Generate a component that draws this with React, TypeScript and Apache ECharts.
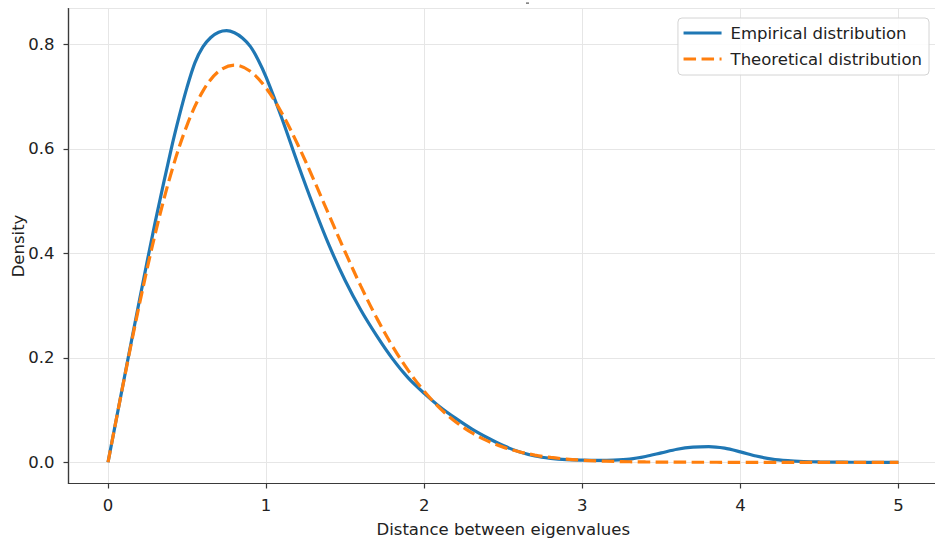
import React, { useEffect, useRef } from "react";
import * as echarts from "echarts";

const empiricalX = [
  0, 0.1, 0.2, 0.3, 0.4, 0.45, 0.5, 0.55, 0.6, 0.65, 0.7, 0.75, 0.8, 0.85, 0.9, 0.95,
  1.0, 1.1, 1.2, 1.3, 1.4, 1.5, 1.6, 1.7, 1.8, 1.9,
  2.0, 2.1, 2.2, 2.3, 2.4, 2.5, 2.6, 2.7, 2.8, 2.9,
  3.0, 3.1, 3.2, 3.3, 3.4, 3.5, 3.6, 3.7, 3.8, 3.9,
  4.0, 4.1, 4.2, 4.3, 4.4, 4.5, 4.6, 4.7, 4.8, 4.9, 5.0,
];

const empirical = [
  0, 0.157, 0.312, 0.462, 0.6, 0.662, 0.718, 0.765, 0.795, 0.813, 0.823, 0.826, 0.822, 0.812, 0.796, 0.77,
  0.737, 0.658, 0.572, 0.49, 0.414, 0.348, 0.291, 0.242, 0.198, 0.161,
  0.132, 0.106, 0.084, 0.064, 0.047, 0.032, 0.02, 0.012, 0.0075, 0.005,
  0.004, 0.0035, 0.004, 0.006, 0.011, 0.018, 0.025, 0.029, 0.03, 0.027,
  0.02, 0.012, 0.006, 0.003, 0.0015, 0.0007, 0.0003, 0.0001, 0, 0, 0,
];

const theoreticalX = [
  0, 0.1, 0.2, 0.3, 0.4, 0.5, 0.6, 0.7, 0.8, 0.9,
  1.0, 1.1, 1.2, 1.3, 1.4, 1.5, 1.6, 1.7, 1.8, 1.9,
  2.0, 2.1, 2.2, 2.3, 2.4, 2.5, 2.6, 2.7, 2.8, 2.9,
  3.0, 3.1, 3.2, 3.3, 3.4, 3.5, 3.6, 3.7, 3.8, 3.9,
  4.0, 4.1, 4.2, 4.3, 4.4, 4.5, 4.6, 4.7, 4.8, 4.9, 5.0,
];

const theoretical = [
  0, 0.1559, 0.3044, 0.4391, 0.5541, 0.6454, 0.7104, 0.7483, 0.7602, 0.7483,
  0.7162, 0.668, 0.6083, 0.5416, 0.4717, 0.4025, 0.3366, 0.2759, 0.222, 0.1753,
  0.1358, 0.1033, 0.0772, 0.0567, 0.0409, 0.029, 0.0202, 0.0138, 0.0093, 0.0062,
  0.004, 0.0026, 0.0016, 0.001, 0.0006, 0.0004, 0.0002, 0.0001, 0.0001, 0,
  0, 0, 0, 0, 0, 0, 0, 0, 0, 0, 0,
];

const seriesNames = ["Empirical distribution", "Theoretical distribution"];
const xAxisName = "Distance between eigenvalues";
const yAxisName = "Density";

const FONT = "DejaVu Sans";
const FS = 16.5;

export default function App() {
  const ref = useRef<HTMLDivElement>(null);
  useEffect(() => {
    if (!ref.current) return;
    const chart = echarts.init(ref.current, undefined, { renderer: "svg" });
    const pairs = (xs: number[], ys: number[]) => xs.map((x, i) => [x, ys[i]]);
    chart.setOption({
      animation: false,
      backgroundColor: "#ffffff",
      grid: {
        left: 68.5,
        right: -3,
        top: 8.5,
        bottom: 54.5,
        outerBoundsMode: "none",
        containLabel: false,
        show: true,
        borderColor: "#3a3a3a",
        borderWidth: 1.2,
        backgroundColor: "transparent",
      },
      legend: {
        orient: "vertical",
        right: 6,
        top: 18,
        padding: [5, 7, 6, 4],
        itemWidth: 38,
        itemHeight: 14,
        itemGap: 6,
        backgroundColor: "rgba(255,255,255,0.85)",
        borderColor: "#d4d4d4",
        borderWidth: 1,
        borderRadius: 4,
        itemStyle: { opacity: 0 },
        lineStyle: { width: 3.2 },
        textStyle: {
          fontFamily: FONT,
          fontSize: FS,
          lineHeight: 20,
          color: "#222",
          padding: [0, 0, 0, 4],
        },
        data: seriesNames,
      },
      xAxis: {
        type: "value",
        min: -0.25,
        max: 5.25,
        name: xAxisName,
        nameLocation: "middle",
        nameGap: 37,
        nameMoveOverlap: false,
        nameTextStyle: { fontFamily: FONT, fontSize: FS, color: "#222" },
        axisLine: { show: true, onZero: false, lineStyle: { color: "#3a3a3a", width: 1.2 } },
        axisTick: { show: true, length: 5, lineStyle: { color: "#3a3a3a", width: 1.2 } },
        axisLabel: {
          showMinLabel: false,
          showMaxLabel: false,
          margin: 13,
          fontFamily: FONT,
          fontSize: FS,
          color: "#222",
          formatter: (v: number) => (Math.abs(v - Math.round(v)) < 1e-6 ? String(Math.round(v)) : ""),
        },
        splitLine: { show: true, lineStyle: { color: "#e6e6e6", width: 1 } },
      },
      yAxis: {
        type: "value",
        min: -0.0406,
        max: 0.8685,
        name: yAxisName,
        nameLocation: "middle",
        nameGap: 42,
        nameMoveOverlap: false,
        nameRotate: 90,
        nameTextStyle: { fontFamily: FONT, fontSize: FS, color: "#222" },
        axisLine: { show: true, onZero: false, lineStyle: { color: "#3a3a3a", width: 1.2 } },
        axisTick: { show: true, length: 5, lineStyle: { color: "#3a3a3a", width: 1.2 } },
        axisLabel: {
          showMinLabel: false,
          showMaxLabel: false,
          margin: 14,
          fontFamily: FONT,
          fontSize: FS,
          color: "#222",
          formatter: (v: number) => {
            const r = Math.round(v * 10) / 10;
            return Math.abs(v - r) < 1e-6 ? r.toFixed(1) : "";
          },
        },
        splitLine: { show: true, lineStyle: { color: "#e6e6e6", width: 1 } },
      },
      graphic: [
        {
          type: "rect",
          shape: { x: 526, y: 2.5, width: 3, height: 1.2 },
          style: { fill: "#555" },
          silent: true,
        },
      ],
      series: [
        {
          name: seriesNames[0],
          type: "line",
          data: pairs(empiricalX, empirical),
          smooth: 0.3,
          showSymbol: false,
          symbol: "none",
          lineStyle: { color: "#1f77b4", width: 3.2 },
          itemStyle: { color: "#1f77b4" },
          z: 2,
        },
        {
          name: seriesNames[1],
          type: "line",
          data: pairs(theoreticalX, theoretical),
          smooth: 0.35,
          showSymbol: false,
          symbol: "none",
          lineStyle: { color: "#ff7f0e", width: 3.2, type: [12.5, 5.5] },
          itemStyle: { color: "#ff7f0e" },
          z: 3,
        },
      ],
    });
    return () => chart.dispose();
  }, []);
  return (
    <div
      ref={ref}
      style={{ position: "absolute", left: 0, top: 0, width: 935, height: 538 }}
    />
  );
}
